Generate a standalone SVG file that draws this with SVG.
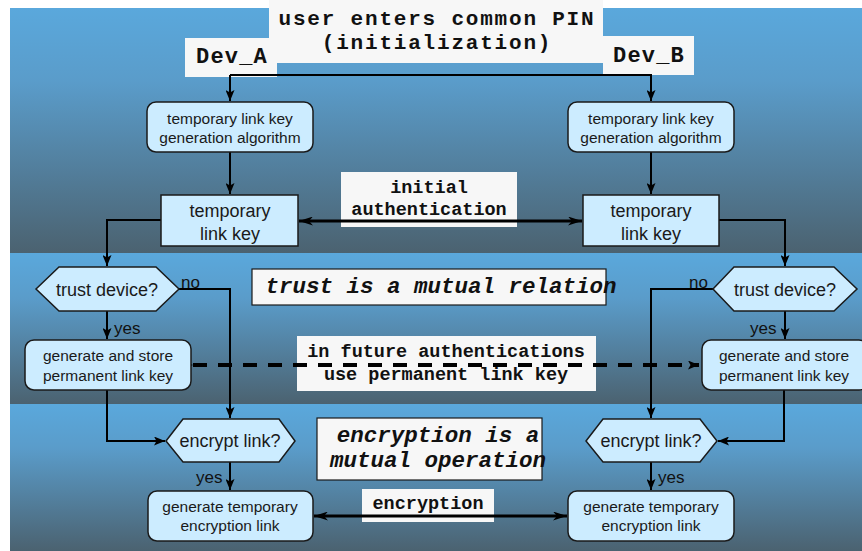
<svg xmlns="http://www.w3.org/2000/svg" width="862" height="551" viewBox="0 0 862 551">
<defs>
<linearGradient id="band" x1="0" y1="0" x2="0" y2="1">
<stop offset="0" stop-color="#5aa8dc"/>
<stop offset="0.3" stop-color="#5a9cca"/>
<stop offset="1" stop-color="#4b6270"/>
</linearGradient>
<marker id="ah" markerWidth="11" markerHeight="9" refX="11" refY="4.5" orient="auto" markerUnits="userSpaceOnUse">
<path d="M0,0 L11,4.5 L0,9 L2.5,4.5 z" fill="#000"/>
</marker>
<marker id="ah2" markerWidth="14" markerHeight="9" refX="14" refY="4.5" orient="auto-start-reverse" markerUnits="userSpaceOnUse">
<path d="M0,0 L14,4.5 L0,9 L4,4.5 z" fill="#000"/>
</marker>
</defs>
<style>
.node{fill:#ccecff;stroke:#1a1a1a;stroke-width:1.5}
.nt{font-family:"Liberation Sans",Arial,sans-serif;fill:#1a1a1a;text-anchor:middle}
.lab{fill:#f7f7f7}
.mono{font-family:"Liberation Mono","Courier New",monospace;font-weight:bold;fill:#111;text-anchor:middle}
.it{font-style:italic}
.con{fill:none;stroke:#000;stroke-width:2;marker-end:url(#ah)}
.dbl{fill:none;stroke:#000;stroke-width:3;marker-start:url(#ah2);marker-end:url(#ah2)}
.dash{fill:none;stroke:#000;stroke-width:4;stroke-dasharray:14 11;marker-start:url(#ah);marker-end:url(#ah)}
.small{font-family:"Liberation Sans",Arial,sans-serif;font-size:17px;fill:#111}
</style>
<rect x="0" y="0" width="862" height="551" fill="#fff"/>
<rect x="10" y="8" width="852" height="245" fill="url(#band)"/>
<rect x="10" y="253" width="852" height="151" fill="url(#band)"/>
<rect x="10" y="404" width="852" height="147" fill="url(#band)"/>

<g id="labels">
<rect class="lab" x="269" y="0" width="334" height="63"/>
<text class="mono" x="437" y="25" font-size="21" letter-spacing="1.8">user enters common PIN</text>
<text class="mono" x="437" y="49" font-size="21" letter-spacing="1.8">(initialization)</text>
<rect class="lab" x="185" y="38" width="92" height="39"/>
<text class="mono" x="232" y="63" font-size="22" letter-spacing="1.2">Dev_A</text>
<rect class="lab" x="603" y="36" width="91" height="39"/>
<text class="mono" x="649" y="62" font-size="22" letter-spacing="1.2">Dev_B</text>
<rect class="lab" x="341" y="172" width="176" height="55"/>
<text class="mono" x="429" y="193" font-size="18.5">initial</text>
<text class="mono" x="429" y="215" font-size="18.5">authentication</text>
<rect class="lab" x="252" y="269" width="354" height="36" stroke="#1a1a1a" stroke-width="1.2"/>
<text class="mono it" x="441" y="293" font-size="22.5">trust is a mutual relation</text>
<rect class="lab" x="297" y="336" width="299" height="55"/>
<text class="mono" x="446" y="357" font-size="18.5">in future authentications</text>
<text class="mono" x="446" y="380" font-size="18.5">use permanent link key</text>
<rect class="lab" x="317" y="418" width="225" height="62" stroke="#1a1a1a" stroke-width="1.2"/>
<text class="mono it" x="438" y="442" font-size="22.5">encryption is a</text>
<text class="mono it" x="438" y="467" font-size="22.5">mutual operation</text>
<rect class="lab" x="362" y="489" width="132" height="33"/>
<text class="mono" x="428" y="509" font-size="18.5">encryption</text>
</g>

<g id="connectors">
<path class="con" d="M230,75 H651 V101"/>
<path class="con" d="M230,75 V101"/>
<path class="con" d="M230,152 V194"/>
<path class="con" d="M651,152 V194"/>
<path class="dbl" d="M299,221 H582"/>
<path class="con" d="M161,220 H107 V266"/>
<path class="con" d="M719,220 H785 V266"/>
<path class="con" d="M107,311 V339"/>
<path class="con" d="M785,311 V339"/>
<path class="con" d="M179,289 H230 V418"/>
<path class="con" d="M713,289 H651 V418"/>
<path class="dash" d="M193,365 H699"/>
<path class="con" d="M107,390 H107 V441 H165"/>
<path class="con" d="M784,390 V441 H718"/>
<path class="con" d="M230,462 V490"/>
<path class="con" d="M651,462 V490"/>
<path class="dbl" d="M314,516 H567"/>
<text class="small" x="181" y="288">no</text>
<text class="small" x="689" y="288">no</text>
<text class="small" x="114" y="334">yes</text>
<text class="small" x="750" y="334">yes</text>
<text class="small" x="196" y="483">yes</text>
<text class="small" x="658" y="483">yes</text>
</g>

<g id="genA">
<rect class="node" x="147" y="102" width="166" height="50" rx="9"/>
<text class="nt" x="230" y="124" font-size="15.5">temporary link key</text>
<text class="nt" x="230" y="143" font-size="15.5">generation algorithm</text>
</g>
<g id="genB">
<rect class="node" x="568" y="102" width="166" height="50" rx="9"/>
<text class="nt" x="651" y="124" font-size="15.5">temporary link key</text>
<text class="nt" x="651" y="143" font-size="15.5">generation algorithm</text>
</g>
<g id="keyA">
<rect class="node" x="161" y="195" width="137" height="51"/>
<text class="nt" x="230" y="217" font-size="18">temporary</text>
<text class="nt" x="230" y="240" font-size="18">link key</text>
</g>
<g id="keyB">
<rect class="node" x="583" y="195" width="136" height="51"/>
<text class="nt" x="651" y="217" font-size="18">temporary</text>
<text class="nt" x="651" y="240" font-size="18">link key</text>
</g>
<g id="trustA">
<polygon class="node" points="36,289 59,267 156,267 179,289 156,311 59,311"/>
<text class="nt" x="107" y="296" font-size="18">trust device?</text>
</g>
<g id="trustB">
<polygon class="node" points="713,289 734,267 834,267 857,289 834,311 734,311"/>
<text class="nt" x="785" y="296" font-size="18">trust device?</text>
</g>
<g id="permA">
<rect class="node" x="25" y="340" width="166" height="50" rx="9"/>
<text class="nt" x="108" y="361" font-size="15.5">generate and store</text>
<text class="nt" x="108" y="381" font-size="15.5">permanent link key</text>
</g>
<g id="permB">
<rect class="node" x="702" y="340" width="166" height="50" rx="9"/>
<text class="nt" x="784" y="361" font-size="15.5">generate and store</text>
<text class="nt" x="784" y="381" font-size="15.5">permanent link key</text>
</g>
<g id="encA">
<polygon class="node" points="166,441 183,419 279,419 295,441 279,462 183,462"/>
<text class="nt" x="230" y="447" font-size="18">encrypt link?</text>
</g>
<g id="encB">
<polygon class="node" points="586,441 603,419 700,419 717,441 700,462 603,462"/>
<text class="nt" x="651" y="447" font-size="18">encrypt link?</text>
</g>
<g id="tmpA">
<rect class="node" x="148" y="491" width="165" height="50" rx="9"/>
<text class="nt" x="230" y="512" font-size="15.5">generate temporary</text>
<text class="nt" x="230" y="531" font-size="15.5">encryption link</text>
</g>
<g id="tmpB">
<rect class="node" x="568" y="491" width="166" height="50" rx="9"/>
<text class="nt" x="651" y="512" font-size="15.5">generate temporary</text>
<text class="nt" x="651" y="531" font-size="15.5">encryption link</text>
</g>
</svg>
